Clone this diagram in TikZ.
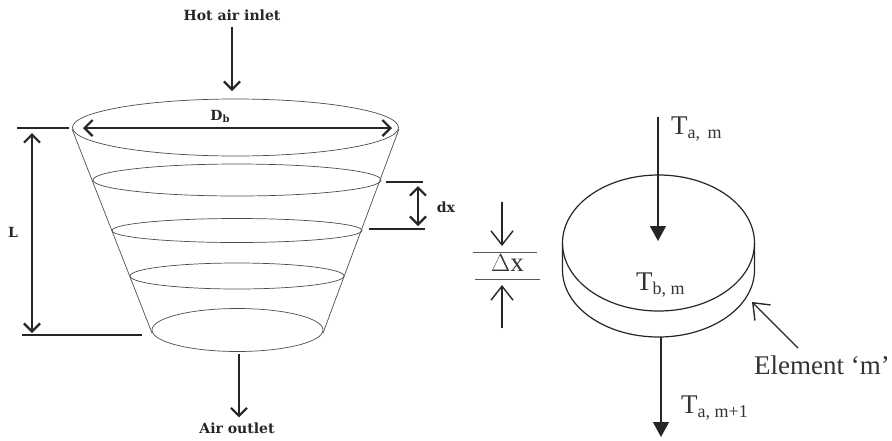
\documentclass[tikz,border=0pt]{standalone}
\usepackage{fontspec}
\setmainfont{Liberation Serif}
\newfontfamily\headfont[Scale=1.0]{DejaVu Serif}
\usetikzlibrary{arrows.meta}
\newcommand{\lowtext}[1]{\raisebox{-4pt}{\fontsize{18}{18}\selectfont #1}}
\newcommand{\lowbold}[1]{\raisebox{-2pt}{\fontsize{10}{10}\selectfont #1}}
\tikzset{
  ring/.style={draw=black!70, line width=0.7pt},
  disc/.style={draw=black!85, line width=1.2pt},
  dimline/.style={draw=black!85, line width=2.2pt},
  thinline/.style={draw=black!65, line width=0.9pt},
  flow/.style={draw=black!85, line width=2.2pt, -{Straight Barb[length=8pt,width=16pt,line width=2.2pt]}},
  span/.style={draw=black!85, line width=2.2pt, {Straight Barb[length=8pt,width=16pt,line width=2.2pt]}-{Straight Barb[length=8pt,width=16pt,line width=2.2pt]}},
  solidflow/.style={draw=black!85, line width=1.3pt, -{Triangle[length=15pt,width=16pt]}},
  openflow/.style={draw=black!85, line width=1.4pt, -{Straight Barb[length=14pt,width=22pt,line width=1.4pt]}},
  boldlabel/.style={font=\headfont\fontsize{14}{16}\selectfont\bfseries, text=black!85, inner sep=0pt},
  plainlabel/.style={font=\fontsize{27}{29}\selectfont, text=black!80, inner sep=0pt}
}
\begin{document}
\begin{tikzpicture}[x=1pt, y=-1pt]
  \useasboundingbox (0,0) rectangle (892,440);

  % ---- the cone: five rings and its two sides ----
  \foreach \cx/\cy/\rx/\ry in {235.5/127.5/163/28.5, 237/180/144/16, 237/230.5/125/12,
                               237/276/107/13, 237.5/330/85.5/21.5}
    \draw[ring] (\cx,\cy) ellipse[x radius=\rx, y radius=\ry];
  \coordinate (coneTL) at (72,129);
  \coordinate (coneTR) at (399,129);
  \coordinate (coneBL) at (152,333);
  \coordinate (coneBR) at (323,333);
  \draw[ring] (coneTL) -- (coneBL);
  \draw[ring] (coneTR) -- (coneBR);

  % ---- air in and out ----
  \node[boldlabel] (inlet) at (232,15) {Hot air inlet};
  \node[boldlabel] (outlet) at (237,428) {Air outlet};
  \coordinate (inletEnd) at (232,91);
  \coordinate (outletStart) at (239,354);
  \draw[flow, shorten <=6pt] (inlet.south -| inletEnd) -- (inletEnd);
  \draw[flow, shorten >=5pt] (outletStart) -- (outlet.north -| outletStart);

  % ---- dimensions of the cone ----
  \coordinate (dbL) at (83,128);
  \coordinate (dbR) at (392,128);
  \draw[span] (dbL) -- (dbR);
  \node[boldlabel] (db) at (220,116) {D\lowbold{b}};

  \coordinate (lineTopA) at (17,128);
  \coordinate (lineTopB) at (69,128);
  \coordinate (lineBotA) at (22,335);
  \coordinate (lineBotB) at (142,335);
  \draw[dimline] (lineTopA) -- (lineTopB);
  \draw[dimline] (lineBotA) -- (lineBotB);
  \coordinate (lenTop) at (32,133);
  \coordinate (lenBot) at (32,333);
  \draw[span] (lenTop) -- (lenBot);
  \node[boldlabel] (len) at (13,232) {L};

  \coordinate (dxTopA) at (386,182);
  \coordinate (dxTopB) at (423,182);
  \coordinate (dxBotA) at (369,229);
  \coordinate (dxBotB) at (425,229);
  \draw[dimline] (dxTopA) -- (dxTopB);
  \draw[dimline] (dxBotA) -- (dxBotB);
  \coordinate (dxUp) at (418,186);
  \coordinate (dxDown) at (418,226);
  \draw[span] (dxUp) -- (dxDown);
  \node[boldlabel] (dx) at (446,207) {dx};

  % ---- the element: a thin disc ----
  \draw[disc] (658.5,243) ellipse[x radius=96, y radius=68];
  \draw[disc] (562.5,243) -- (562.5,270)
    arc[start angle=180, end angle=360, x radius=96pt, y radius=67pt] -- (754.5,243);

  \coordinate (inTop) at (658,117);
  \coordinate (inEnd) at (658,241);
  \coordinate (outStart) at (661,337);
  \coordinate (outEnd) at (661,437);
  \draw[solidflow] (inTop) -- (inEnd);
  \draw[solidflow] (outStart) -- (outEnd);
  \node[plainlabel, anchor=base west] (tam) at (671,134) {T\lowtext{a,\, m}};
  \node[plainlabel, anchor=base west] (tbm) at (636,290) {T\lowtext{b, m}};
  \node[plainlabel, anchor=base west] (tamn) at (681,413) {T\lowtext{a, m+1}};

  % ---- thickness of the element ----
  \coordinate (dltTopA) at (473,252);
  \coordinate (dltTopB) at (537,252);
  \coordinate (dltBotA) at (475,279);
  \coordinate (dltBotB) at (540,279);
  \draw[thinline] (dltTopA) -- (dltTopB);
  \draw[thinline] (dltBotA) -- (dltBotB);
  \node[plainlabel] (dlt) at (507.5,263) {$\Delta$x};
  \coordinate (dltInA) at (502,202);
  \coordinate (dltInB) at (502,246);
  \coordinate (dltOutA) at (502,328);
  \coordinate (dltOutB) at (502,285);
  \draw[openflow] (dltInA) -- (dltInB);
  \draw[openflow] (dltOutA) -- (dltOutB);

  \node[plainlabel, anchor=west] (element) at (754,365) {Element ‘m’};
  \coordinate (elemTip) at (752,302);
  \coordinate (elemTail) at (798,348);
  \draw[openflow] (elemTail) -- (elemTip);
\end{tikzpicture}
\end{document}
